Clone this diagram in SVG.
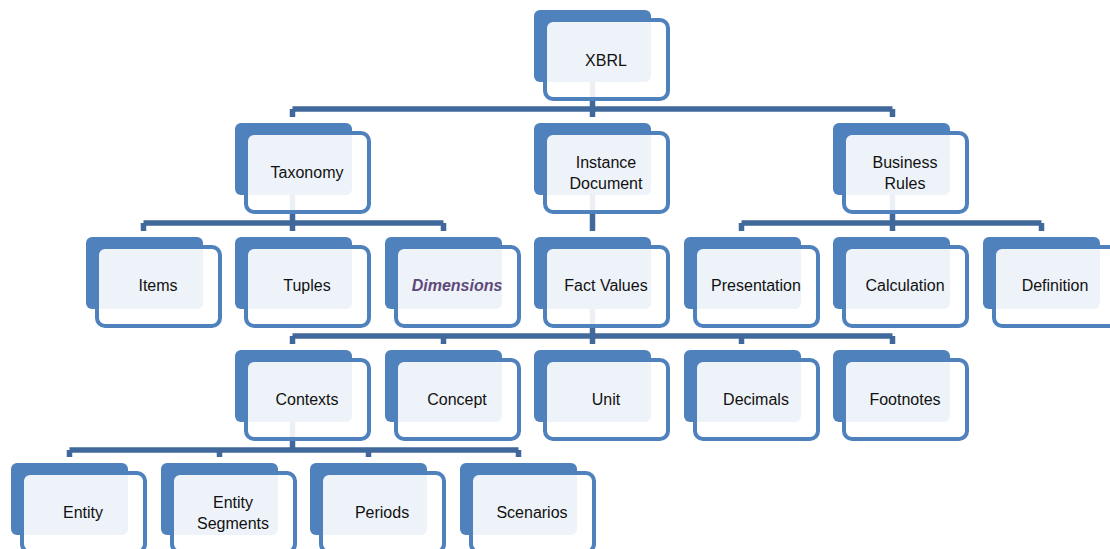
<svg xmlns="http://www.w3.org/2000/svg" width="1110" height="549" viewBox="0 0 1110 549">
<defs>
<style>
.back{fill:#4F81BD;}
.front{fill:#FFFFFF;fill-opacity:0.9;stroke:#4F81BD;stroke-width:4;}
.lbl{font-family:"Liberation Sans",Arial,sans-serif;font-size:16px;fill:#111;text-anchor:middle;}
.dim{font-weight:bold;font-style:italic;fill:#5F497A;}
.con{stroke:#41689A;stroke-width:5.5;fill:none;}
</style>
<g id="nodeshape">
<rect class="back" x="0" y="0" width="117" height="72" rx="6"/>
<rect class="front" x="11" y="10" width="123" height="79" rx="8"/>
</g>
</defs>
<rect width="1110" height="549" fill="#FFFFFF"/>
<g id="connectors">
<path class="con" d="M592.5 82V109M292.5 109H892.5M292.5 109V117M592.5 109V117M892.5 109V117"/>
<path class="con" d="M292.5 195V223M143.5 223H443.5M143.5 223V231M292.5 223V231M443.5 223V231"/>
<path class="con" d="M592.5 195V231"/>
<path class="con" d="M892.5 195V223M741.5 223H1041.5M741.5 223V231M892.5 223V231M1041.5 223V231"/>
<path class="con" d="M592.5 309V336M292.5 336H892.5M292.5 336V344M443.5 336V344M592.5 336V344M741.5 336V344M892.5 336V344"/>
<path class="con" d="M292.5 422V450M69.5 450H518.5M69.5 450V457M219.5 450V457M368.5 450V457M518.5 450V457"/>
</g>
<g id="n-xbrl"><use href="#nodeshape" x="534" y="10"/><text class="lbl" x="606" y="65.5">XBRL</text></g>
<g id="n-taxonomy"><use href="#nodeshape" x="235" y="123"/><text class="lbl" x="307" y="178">Taxonomy</text></g>
<g id="n-instance"><use href="#nodeshape" x="534" y="123"/><text class="lbl" x="606" y="168">Instance</text><text class="lbl" x="606" y="189">Document</text></g>
<g id="n-business"><use href="#nodeshape" x="833" y="123"/><text class="lbl" x="905" y="168">Business</text><text class="lbl" x="905" y="189">Rules</text></g>
<g id="n-items"><use href="#nodeshape" x="86" y="237"/><text class="lbl" x="158" y="291">Items</text></g>
<g id="n-tuples"><use href="#nodeshape" x="235" y="237"/><text class="lbl" x="307" y="291">Tuples</text></g>
<g id="n-dimensions"><use href="#nodeshape" x="385" y="237"/><text class="lbl dim" x="457" y="291">Dimensions</text></g>
<g id="n-factvalues"><use href="#nodeshape" x="534" y="237"/><text class="lbl" x="606" y="291">Fact Values</text></g>
<g id="n-presentation"><use href="#nodeshape" x="684" y="237"/><text class="lbl" x="756" y="291">Presentation</text></g>
<g id="n-calculation"><use href="#nodeshape" x="833" y="237"/><text class="lbl" x="905" y="291">Calculation</text></g>
<g id="n-definition"><use href="#nodeshape" x="983" y="237"/><text class="lbl" x="1055" y="291">Definition</text></g>
<g id="n-contexts"><use href="#nodeshape" x="235" y="350"/><text class="lbl" x="307" y="405">Contexts</text></g>
<g id="n-concept"><use href="#nodeshape" x="385" y="350"/><text class="lbl" x="457" y="405">Concept</text></g>
<g id="n-unit"><use href="#nodeshape" x="534" y="350"/><text class="lbl" x="606" y="405">Unit</text></g>
<g id="n-decimals"><use href="#nodeshape" x="684" y="350"/><text class="lbl" x="756" y="405">Decimals</text></g>
<g id="n-footnotes"><use href="#nodeshape" x="833" y="350"/><text class="lbl" x="905" y="405">Footnotes</text></g>
<g id="n-entity"><use href="#nodeshape" x="11" y="463"/><text class="lbl" x="83" y="518">Entity</text></g>
<g id="n-entitysegments"><use href="#nodeshape" x="161" y="463"/><text class="lbl" x="233" y="508">Entity</text><text class="lbl" x="233" y="529">Segments</text></g>
<g id="n-periods"><use href="#nodeshape" x="310" y="463"/><text class="lbl" x="382" y="518">Periods</text></g>
<g id="n-scenarios"><use href="#nodeshape" x="460" y="463"/><text class="lbl" x="532" y="518">Scenarios</text></g>
</svg>
